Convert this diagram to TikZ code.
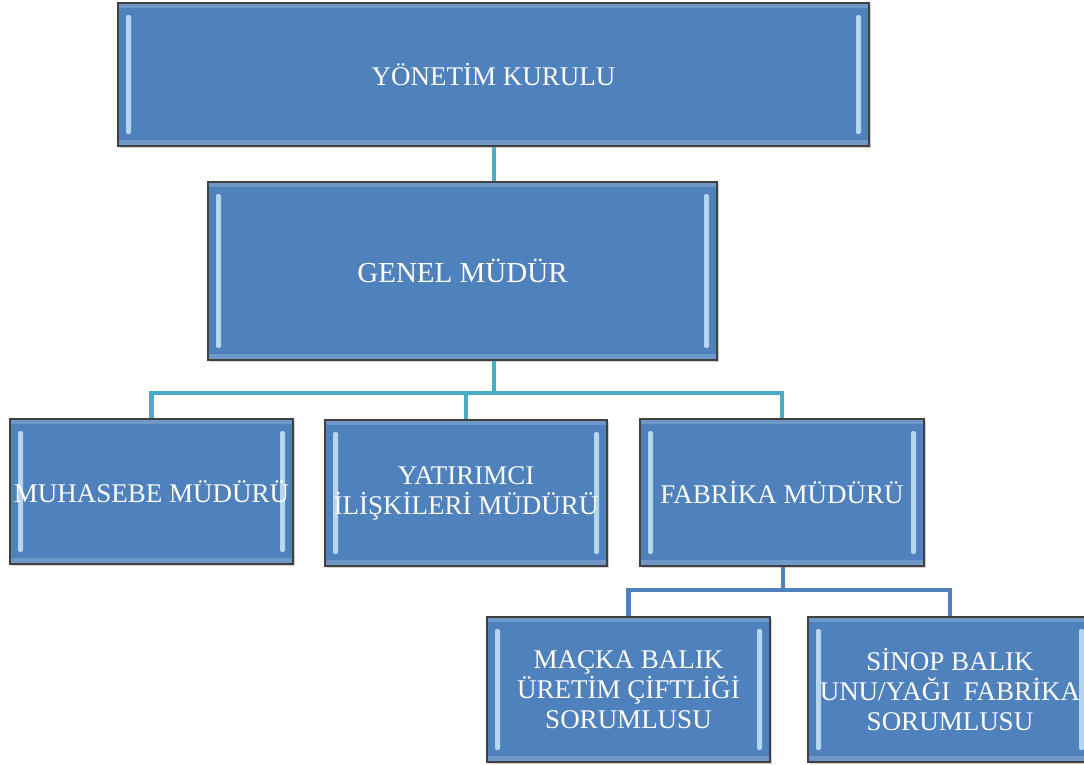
\documentclass[tikz,border=0pt]{standalone}
\usepackage{fontspec}
\setmainfont{Liberation Serif}
\usetikzlibrary{shadows}
\definecolor{boxblue}{HTML}{4F81BD}
\definecolor{glow}{HTML}{C9E6FA}
\definecolor{tealline}{HTML}{4BACC6}
\tikzset{
    orgbox/.style={draw=black!75, line width=1.5pt, fill=boxblue, text=white,
        align=center, inner sep=0pt,
        drop shadow={shadow xshift=2pt, shadow yshift=-2pt, opacity=.35},
        font=\fontsize{27}{30}\selectfont,
        path picture={
            \fill[boxblue!60!white, opacity=.45] (path picture bounding box.north west) rectangle ([yshift=-5pt]path picture bounding box.north east);
            \fill[boxblue!60!white, opacity=.45] ([yshift=6pt]path picture bounding box.south west) rectangle (path picture bounding box.south east);
            \fill[glow, opacity=.85, rounded corners=2pt] ([xshift=8pt,yshift=-12pt]path picture bounding box.north west) rectangle ([xshift=13pt,yshift=12pt]path picture bounding box.south west);
            \fill[glow, opacity=.85, rounded corners=2pt] ([xshift=-13pt,yshift=-12pt]path picture bounding box.north east) rectangle ([xshift=-8pt,yshift=12pt]path picture bounding box.south east);
        }},
    upper/.style={draw=tealline, line width=4.5pt},
    lower/.style={draw=boxblue, line width=4.5pt}
}
\begin{document}
\begin{tikzpicture}[x=1pt,y=1pt]
    \useasboundingbox (0,0) rectangle (1084,-764);
    % where the connectors bend
    \coordinate (trunk) at (494,-146);
    \coordinate (bus) at (494,-393);
    \coordinate (bus2) at (783,-590);

    \node [orgbox, minimum width=751, minimum height=143] (yk) at (493.5,-74.5) {YÖNETİM KURULU};
    \node [orgbox, minimum width=509, minimum height=178, font=\fontsize{29}{30}\selectfont] (gm) at (462.5,-271) {GENEL MÜDÜR};

    \node [orgbox, minimum width=283, minimum height=145] (mm) at (151.5,-491.5) {MUHASEBE MÜDÜRÜ};
    \node [orgbox, minimum width=282, minimum height=146] (ym) at (466,-493) {YATIRIMCI\\İLİŞKİLERİ MÜDÜRÜ};
    \node [orgbox, minimum width=284, minimum height=147] (fm) at (782,-492.5) {FABRİKA MÜDÜRÜ};

    \node [orgbox, minimum width=283, minimum height=145] (mb) at (628.5,-689.5) {MAÇKA BALIK\\ÜRETİM ÇİFTLİĞİ\\SORUMLUSU};
    \node [orgbox, minimum width=284, minimum height=145] (sb) at (950,-689.5) {SİNOP BALIK\\UNU/YAĞI\ \ FABRİKA\\SORUMLUSU};

    \draw [upper] (yk.south -| trunk) -- (gm.north -| trunk);
    \draw [upper] (gm.south -| trunk) -- (bus);
    \draw [upper] (bus) -| (mm.north);
    \draw [upper] (bus) -| (ym.north);
    \draw [upper] (bus) -| (fm.north);
    \draw [lower] (fm.south -| bus2) -- (bus2);
    \draw [lower] (bus2) -| (mb.north);
    \draw [lower] (bus2) -| (sb.north);
\end{tikzpicture}
\end{document}
